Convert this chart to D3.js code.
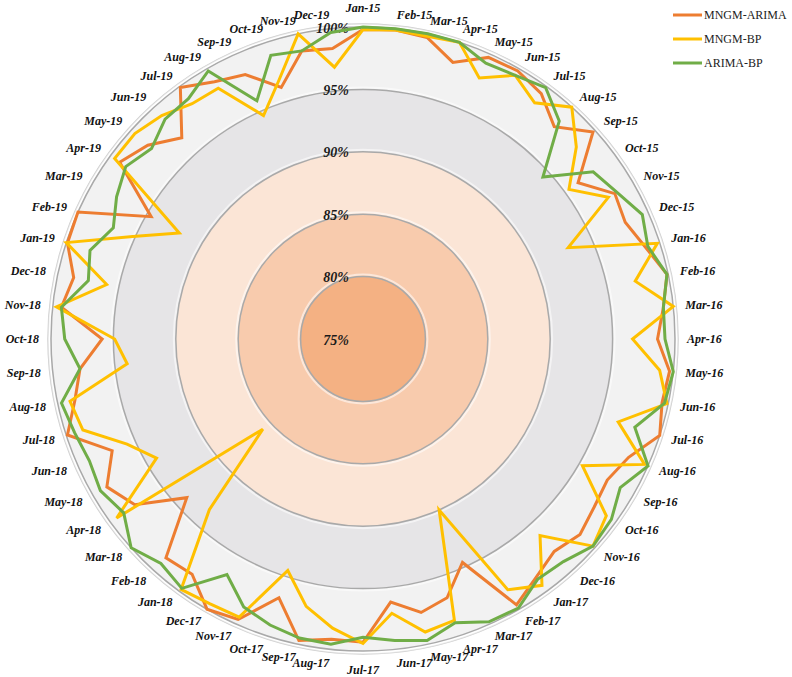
<!DOCTYPE html>
<html>
<head>
<meta charset="utf-8">
<script src="https://cdn.jsdelivr.net/npm/d3@7"></script>
<style>
  body { margin: 0; background: #fff; }
  svg { display: block; }
</style>
</head>
<body>
<svg id="chart" width="792" height="677"></svg>
<script>
// month categories, clockwise from the top
const categories = [
  'Jan-15', 'Feb-15', 'Mar-15', 'Apr-15', 'May-15', 'Jun-15', 'Jul-15', 'Aug-15', 'Sep-15', 'Oct-15', 'Nov-15', 'Dec-15',
  'Jan-16', 'Feb-16', 'Mar-16', 'Apr-16', 'May-16', 'Jun-16', 'Jul-16', 'Aug-16', 'Sep-16', 'Oct-16', 'Nov-16', 'Dec-16',
  'Jan-17', 'Feb-17', 'Mar-17', 'Apr-17', 'May-17', 'Jun-17', 'Jul-17', 'Aug-17', 'Sep-17', 'Oct-17', 'Nov-17', 'Dec-17',
  'Jan-18', 'Feb-18', 'Mar-18', 'Apr-18', 'May-18', 'Jun-18', 'Jul-18', 'Aug-18', 'Sep-18', 'Oct-18', 'Nov-18', 'Dec-18',
  'Jan-19', 'Feb-19', 'Mar-19', 'Apr-19', 'May-19', 'Jun-19', 'Jul-19', 'Aug-19', 'Sep-19', 'Oct-19', 'Nov-19', 'Dec-19'
];

// accuracy in %, one value per month
const mngmArima = [
  99.8, 99.9, 99.7, 98.3, 99.7, 99.8, 99.3, 97.9, 99.8, 96.3, 98.3, 98.0,
  98.8, 99.9, 99.2, 98.6, 99.7, 99.5, 100.0, 98.3, 97.6, 97.9, 98.4, 97.9,
  98.6, 99.6, 94.6, 96.8, 97.4, 96.2, 99.3, 99.2, 99.7, 96.8, 99.6, 100.0,
  98.3, 98.6, 94.0, 97.6, 98.7, 97.0, 99.9, 98.6, 97.8, 95.9, 99.3, 98.7,
  99.9, 100.0, 94.6, 99.1, 98.2, 96.7, 99.9, 98.8, 98.2, 96.2, 98.6, 98.4
];
const mngmBp = [
  99.8, 99.9, 99.8, 100.0, 97.9, 99.4, 98.4, 100.0, 98.0, 95.4, 97.7, 93.0,
  99.8, 97.3, 100.0, 96.6, 98.9, 99.9, 96.5, 99.7, 95.3, 99.1, 99.8, 96.2,
  99.4, 98.2, 90.0, 98.7, 99.0, 97.1, 99.4, 98.3, 96.9, 94.5, 99.4, 99.5,
  99.8, 93.4, 85.8, 99.4, 94.1, 95.7, 98.6, 99.0, 94.0, 94.9, 99.7, 96.0,
  100.0, 95.2, 92.0, 99.6, 99.6, 99.1, 98.3, 98.2, 94.6, 96.8, 100.0, 96.9
];
const arimaBp = [
  100.0, 100.0, 100.0, 100.0, 99.2, 99.4, 99.9, 98.5, 94.4, 97.8, 98.5, 99.5,
  99.0, 99.9, 99.2, 99.2, 100.0, 99.7, 97.9, 100.0, 98.8, 99.6, 99.8, 99.0,
  98.8, 99.9, 99.8, 98.9, 99.7, 99.3, 98.9, 99.6, 99.5, 99.1, 98.5, 96.8,
  99.7, 99.2, 100.0, 98.7, 99.3, 99.0, 99.3, 99.7, 97.8, 98.9, 99.3, 97.5,
  98.0, 96.9, 97.8, 98.5, 97.8, 98.7, 98.8, 99.8, 95.9, 98.9, 98.6, 99.7
];

const seriesNames = ['MNGM-ARIMA', 'MNGM-BP', 'ARIMA-BP'];
const radialTicks = [75, 80, 85, 90, 95, 100];

const colors = ['#ed7d31', '#ffc000', '#70ad47'];
const bandColors = ['#f4b183', '#f8cbad', '#fbe5d6', '#e6e5e7', '#f2f2f2'];

const series = [mngmArima, mngmBp, arimaBp];

const cx = 363;
const cy = 339;
const R = 312;
const serif = '"Times New Roman", "Liberation Serif", serif';

const svg = d3.select('#chart');

const r = d3.scaleLinear()
  .domain([radialTicks[0], radialTicks[radialTicks.length - 1]])
  .range([0, R]);

const angle = d3.scaleBand()
  .domain(categories)
  .range([0, 2 * Math.PI])
  .padding(0)
  .align(0);

const plot = svg.append('g')
  .attr('transform', `translate(${cx},${cy})`);

// coloured bands between the percentage rings
const bands = d3.pairs(radialTicks);
plot.selectAll('path.band')
  .data(bands)
  .join('path')
  .attr('class', 'band')
  .attr('fill', (d, i) => bandColors[i])
  .attr('d', d => d3.arc()
    .innerRadius(r(d[0]))
    .outerRadius(r(d[1]))
    .startAngle(0)
    .endAngle(2 * Math.PI)());

// soft outer rim
plot.append('circle')
  .attr('r', R + 3)
  .attr('fill', 'none')
  .attr('stroke', '#cfcfcf')
  .attr('stroke-width', 1.5);

// ring gridlines with a faint halo
const rings = radialTicks.slice(1);
plot.selectAll('circle.halo')
  .data(rings)
  .join('circle')
  .attr('class', 'halo')
  .attr('r', d => r(d) + 2)
  .attr('fill', 'none')
  .attr('stroke', '#ffffff')
  .attr('stroke-opacity', 0.55)
  .attr('stroke-width', 2);

plot.selectAll('circle.grid')
  .data(rings)
  .join('circle')
  .attr('class', 'grid')
  .attr('r', d => r(d))
  .attr('fill', 'none')
  .attr('stroke', '#a9a9a9')
  .attr('stroke-width', 1.5);

// percentage labels, left of the vertical axis
plot.selectAll('text.tick')
  .data(radialTicks)
  .join('text')
  .attr('class', 'tick')
  .attr('x', -14)
  .attr('y', d => -r(d) + 1)
  .attr('text-anchor', 'end')
  .attr('dominant-baseline', 'central')
  .style('font-family', serif)
  .style('font-size', '14px')
  .style('font-weight', 'bold')
  .style('font-style', 'italic')
  .attr('fill', '#1a1a1a')
  .text(d => d + '%');

// series lines
const line = d3.lineRadial()
  .angle((d, i) => angle(categories[i]))
  .radius(d => r(d))
  .curve(d3.curveLinearClosed);

plot.selectAll('path.series')
  .data(series)
  .join('path')
  .attr('class', 'series')
  .attr('fill', 'none')
  .attr('stroke', (d, i) => colors[i])
  .attr('stroke-width', 3)
  .attr('stroke-linejoin', 'miter')
  .attr('d', line);

// month labels around the rim
const labelR = R + 12;
plot.selectAll('text.month')
  .data(categories)
  .join('text')
  .attr('class', 'month')
  .each(function (d) {
    const a = angle(d);
    const s = Math.sin(a);
    const c = Math.cos(a);
    const top = Math.abs(s) < 0.05;
    d3.select(this)
      .attr('x', labelR * s)
      .attr('y', -labelR * c - (top ? c * 7 : c * 1.5))
      .attr('text-anchor', top ? 'middle' : (s > 0 ? 'start' : 'end'));
  })
  .attr('dominant-baseline', 'central')
  .style('font-family', serif)
  .style('font-size', '12px')
  .style('font-weight', 'bold')
  .style('font-style', 'italic')
  .attr('fill', '#111')
  .text(d => d);

// legend
const legend = svg.append('g')
  .attr('transform', 'translate(673,15)');

const item = legend.selectAll('g')
  .data(seriesNames)
  .join('g')
  .attr('transform', (d, i) => `translate(0,${i * 24})`);

item.append('line')
  .attr('x1', 0)
  .attr('x2', 29)
  .attr('stroke', (d, i) => colors[i])
  .attr('stroke-width', 3);

item.append('text')
  .attr('x', 31)
  .attr('dominant-baseline', 'central')
  .style('font-family', serif)
  .style('font-size', '12px')
  .attr('fill', '#222')
  .text(d => d);
</script>
</body>
</html>
